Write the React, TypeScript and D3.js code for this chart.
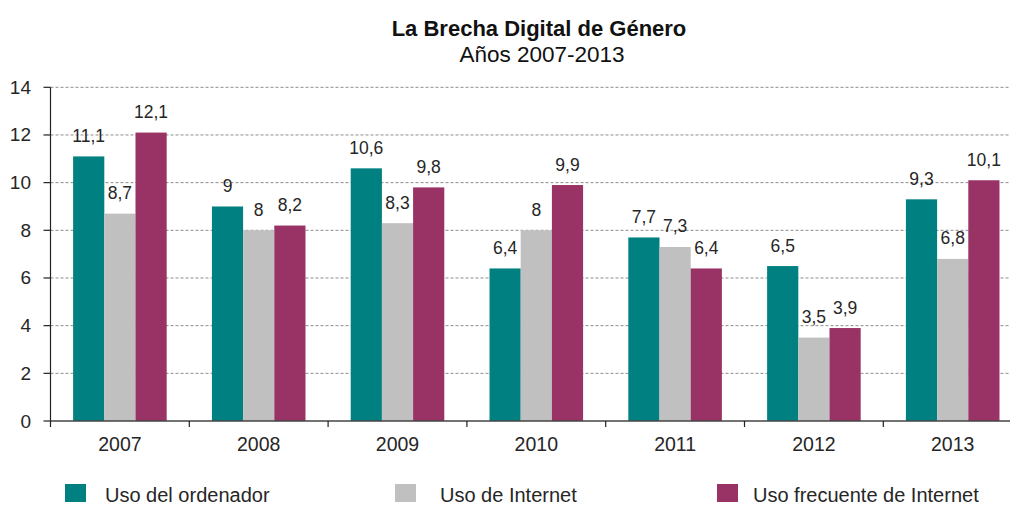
import React from "react";
import * as d3 from "d3";

const years = ["2007", "2008", "2009", "2010", "2011", "2012", "2013"];
const seriesNames = ["Uso del ordenador", "Uso de Internet", "Uso frecuente de Internet"];
const usoOrdenador = [11.1, 9, 10.6, 6.4, 7.7, 6.5, 9.3];
const usoInternet = [8.7, 8, 8.3, 8, 7.3, 3.5, 6.8];
const usoFrecuente = [12.1, 8.2, 9.8, 9.9, 6.4, 3.9, 10.1];
const seriesColors = ["#008080", "#C0C0C0", "#993366"];
const yTicks = [0, 2, 4, 6, 8, 10, 12, 14];
const title = "La Brecha Digital de Género";
const subtitle = "Años 2007-2013";

const W = 1010;
const H = 505;
const FONT = "'Liberation Sans', Arial, sans-serif";

export default function App() {
  const seriesValues = [usoOrdenador, usoInternet, usoFrecuente];
  const left = 50.5;
  const step = 138.8;
  const x0 = d3.scaleBand<string>().domain(years).range([left, left + step * years.length]).padding(0);
  const x1 = d3
    .scaleBand<string>()
    .domain(seriesNames)
    .range([0, x0.bandwidth()])
    .paddingInner(0)
    .paddingOuter(0.725);
  const y = d3.scaleLinear().domain([0, 14]).range([421, 87.3]);
  const fmt = (v: number) => String(v).replace(".", ",");
  const textColor = "#262626";

  const boundaries = years.map((yr) => x0(yr) as number).concat([left + step * years.length]);

  const legendX = [65, 395, 717];
  const legendTextX = [105, 440, 753];

  return (
    <svg
      width={W}
      height={H}
      style={{ position: "absolute", left: 0, top: 0, display: "block", background: "#fff" }}
      fontFamily={FONT}
    >
      <rect x={0} y={0} width={W} height={H} fill="#fff" />
      {/* Title */}
      <text x={539} y={36} textAnchor="middle" fontSize={22} fontWeight="bold" fill="#111">
        {title}
      </text>
      <text x={542} y={62} textAnchor="middle" fontSize={22.5} fill="#111">
        {subtitle}
      </text>

      {/* Grid lines */}
      {yTicks
        .filter((t) => t !== 0)
        .map((t) => (
          <line
            key={"g" + t}
            x1={left}
            x2={W}
            y1={y(t)}
            y2={y(t)}
            stroke="#8c8c8c"
            strokeWidth={1}
            strokeDasharray="3,2"
          />
        ))}

      {/* Bars */}
      {years.map((yr, i) => (
        <g key={yr} transform={`translate(${x0(yr)},0)`}>
          {seriesNames.map((s, k) => {
            const v = seriesValues[k][i];
            const bx = x1(s) as number;
            return (
              <rect
                key={s}
                x={bx}
                y={y(v)}
                width={x1.bandwidth()}
                height={y(0) - y(v)}
                fill={seriesColors[k]}
              />
            );
          })}
        </g>
      ))}

      {/* Value labels */}
      {years.map((yr, i) =>
        seriesNames.map((s, k) => {
          const v = seriesValues[k][i];
          const cx = (x0(yr) as number) + (x1(s) as number) + x1.bandwidth() / 2;
          return (
            <text
              key={yr + s}
              x={cx}
              y={y(v) - 14.5}
              textAnchor="middle"
              fontSize={17.5}
              fill={textColor}
            >
              {fmt(v)}
            </text>
          );
        })
      )}

      {/* Y axis */}
      <line x1={left} x2={left} y1={y(14)} y2={y(0)} stroke="#222" strokeWidth={1.2} />
      {yTicks.map((t) => (
        <g key={"yt" + t}>
          <line x1={left - 7} x2={left} y1={y(t)} y2={y(t)} stroke="#222" strokeWidth={1.2} />
          <text x={31} y={y(t) + 6.5} textAnchor="end" fontSize={19} fill={textColor}>
            {t}
          </text>
        </g>
      ))}

      {/* X axis */}
      <line x1={left} x2={W} y1={y(0)} y2={y(0)} stroke="#444" strokeWidth={1.5} />
      {boundaries.map((bx, i) => (
        <line key={"xt" + i} x1={bx} x2={bx} y1={y(0)} y2={y(0) + 6} stroke="#222" strokeWidth={1.2} />
      ))}
      {years.map((yr) => (
        <text
          key={"xl" + yr}
          x={(x0(yr) as number) + x0.bandwidth() / 2}
          y={451}
          textAnchor="middle"
          fontSize={19.5}
          fill={textColor}
        >
          {yr}
        </text>
      ))}

      {/* Legend */}
      {seriesNames.map((s, k) => (
        <g key={"lg" + s}>
          <rect x={legendX[k]} y={484} width={21} height={18} fill={seriesColors[k]} />
          <text x={legendTextX[k]} y={502} fontSize={20} fill={textColor}>
            {s}
          </text>
        </g>
      ))}
    </svg>
  );
}
